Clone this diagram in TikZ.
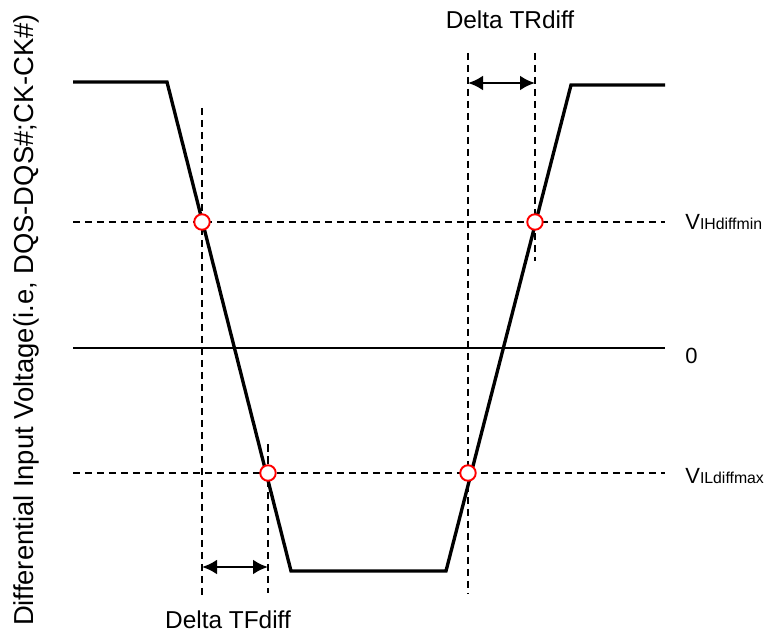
\documentclass[tikz,border=0pt]{standalone}
\usepackage{fontspec}
\setmainfont{Liberation Sans}
\usepackage{tikz}
\usetikzlibrary{arrows.meta}

\begin{document}
\begin{tikzpicture}[
  x=0.02cm, y=-0.02cm,
  sig/.style={line width=1.9pt, line join=miter},
  zero/.style={line width=1.5pt},
  guide/.style={line width=1.25pt, dash pattern=on 1.5mm off 0.9mm},
  xing/.style={circle, draw=red, fill=white, line width=1.1pt, minimum size=3.1mm, inner sep=0pt},
  dim/.style={{Latex[length=3mm,width=3mm]}-{Latex[length=3mm,width=3mm]}, line width=1.6pt},
  lbl/.style={inner sep=0pt, font=\fontsize{13.9}{16}\selectfont},
  lvl/.style={inner sep=0pt, anchor=base west, font=\fontsize{12.5}{14}\selectfont},
]
\useasboundingbox (0,0) rectangle (767,635);
% levels
\draw[guide] (73,222) -- (665,222);
\draw[zero] (73,348) -- (665,348);
\draw[guide] (73,473) -- (665,473);
% timing guides
\draw[guide] (202,108) -- (202,597);
\draw[guide] (268,444) -- (268,593);
\draw[guide] (468,53) -- (468,593);
\draw[guide] (535,53) -- (535,261);
% differential signal
\coordinate (hiL) at (73,82); \coordinate (fallS) at (167,82);
\coordinate (fallE) at (291,571); \coordinate (riseS) at (446,571);
\coordinate (riseE) at (571,85); \coordinate (hiR) at (665,85);
\draw[sig] (hiL) -- (fallS) -- (fallE) -- (riseS) -- (riseE) -- (hiR);
% crossing marks
\node[xing] (fIH) at (202,222) {};
\node[xing] (fIL) at (268,473) {};
\node[xing] (rIL) at (468,473) {};
\node[xing] (rIH) at (535,222) {};
% delta arrows
\coordinate (tfA) at (202,567); \coordinate (tfB) at (268,567);
\coordinate (trA) at (468,83); \coordinate (trB) at (535,83);
\draw[dim] (tfA) -- (tfB);
\draw[dim] (trA) -- (trB);
% labels
\node[lbl] (trlbl) at (510,20) {Delta TRdiff};
\node[lbl] (tflbl) at (228,620) {Delta TFdiff};
\node[lvl] (vih) at (685,229) {V{\fontsize{9}{10}\selectfont IHdiffmin}};
\node[lvl] (v0) at (685,363) {0};
\node[lvl] (vil) at (685,483) {V{\fontsize{9}{10}\selectfont ILdiffmax}};
\node[inner sep=0pt, anchor=base, rotate=90, font=\fontsize{15.6}{18}\selectfont] (ylbl) at (33,320)
  {Differential Input Voltage(i.e, DQS-DQS\#;CK-CK\#)};
\end{tikzpicture}
\end{document}
